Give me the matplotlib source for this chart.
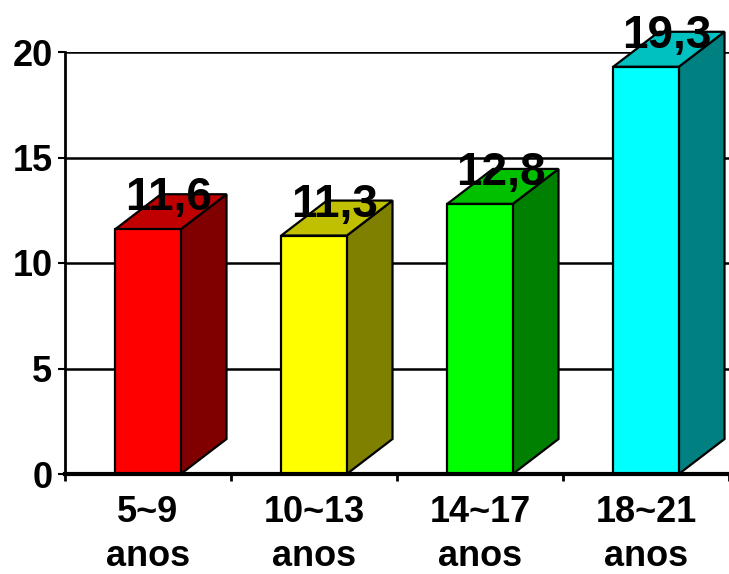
import matplotlib
matplotlib.use("Agg")
import matplotlib.pyplot as plt
from matplotlib.patches import Polygon, Rectangle

categories = ["5~9\nanos", "10~13\nanos", "14~17\nanos", "18~21\nanos"]
values = [11.6, 11.3, 12.8, 19.3]
value_labels = ["11,6", "11,3", "12,8", "19,3"]
front_colors = ["#FF0000", "#FFFF00", "#00FF00", "#00FFFF"]
top_colors = ["#C00000", "#C0C000", "#00C000", "#00C0C0"]
side_colors = ["#800000", "#808000", "#008000", "#008080"]
y_ticks = [0, 5, 10, 15, 20]

plt.rcParams["font.family"] = ["Liberation Sans", "DejaVu Sans"]
plt.rcParams["font.weight"] = "bold"

W, H = 729, 574
fig = plt.figure(figsize=(W / 100, H / 100), dpi=100)
left_px, bottom_px, top_px = 65, 474, 52
slot_px = 167.0
ax = fig.add_axes([left_px / W, (H - bottom_px) / H, (W - left_px) / W, (bottom_px - top_px) / H])
ax.set_xlim(0, (W - left_px) / slot_px)
ax.set_ylim(0, 20)

# 3D look: front face, top face and side face for each bar
bar_w = 0.395
dx = 46 / slot_px
dy = 35 / ((bottom_px - top_px) / 20)
edge = dict(edgecolor="black", linewidth=1.6, joinstyle="miter")
for i, v in enumerate(values):
    x0 = i + 0.5 - bar_w / 2
    x1 = x0 + bar_w
    ax.add_patch(Polygon([(x1, 0), (x1 + dx, dy), (x1 + dx, v + dy), (x1, v)],
                         closed=True, facecolor=side_colors[i], zorder=3, clip_on=False, **edge))
    ax.add_patch(Polygon([(x0, v), (x1, v), (x1 + dx, v + dy), (x0 + dx, v + dy)],
                         closed=True, facecolor=top_colors[i], zorder=3, clip_on=False, **edge))
    ax.add_patch(Rectangle((x0, 0), bar_w, v, facecolor=front_colors[i], zorder=4,
                           clip_on=False, **edge))
    ax.annotate(value_labels[i], xy=(i + 0.5, v), xytext=(15, 13.7),
                textcoords="offset points", ha="center", va="baseline",
                fontsize=33, fontweight="bold", zorder=6, annotation_clip=False)

ax.set_yticks(y_ticks)
ax.set_yticklabels([str(t) for t in y_ticks], fontsize=26, fontweight="bold")
ax.yaxis.grid(True, color="black", linewidth=1.8, zorder=1)
ax.set_axisbelow(True)

ax.set_xticks([0, 1, 2, 3, 4])
ax.set_xticklabels([])
ax.set_xticks([i + 0.5 for i in range(len(categories))], minor=True)
ax.set_xticklabels(categories, minor=True, fontsize=26, fontweight="bold", linespacing=1.35)
ax.tick_params(axis="x", which="minor", length=0, pad=15)
ax.tick_params(axis="x", which="major", length=5, width=2, direction="out")
ax.tick_params(axis="y", length=5, width=1.5, direction="out", pad=4)

for s in ["top", "right"]:
    ax.spines[s].set_visible(False)
ax.spines["left"].set_linewidth(2)
ax.spines["bottom"].set_linewidth(3)
ax.spines["bottom"].set_zorder(5)

fig.savefig("out.png", dpi=100)
